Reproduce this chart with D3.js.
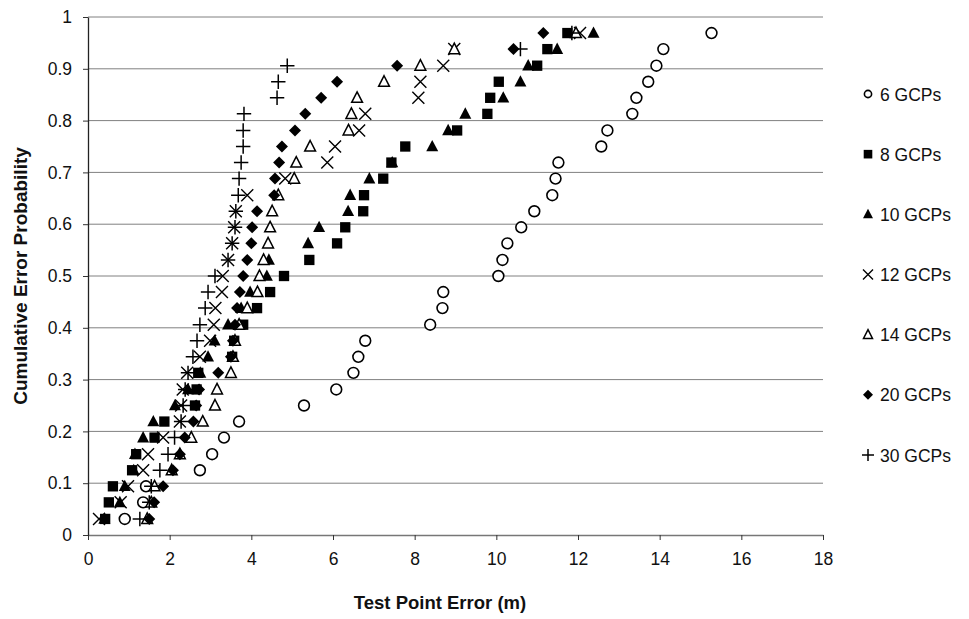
<!DOCTYPE html>
<html><head><meta charset="utf-8">
<script src="https://cdn.jsdelivr.net/npm/d3@7"></script>
<style>body{margin:0;background:#fff}svg{display:block}text{font-family:"Liberation Sans",Arial,sans-serif}</style>
</head><body>
<svg id="c" width="969" height="619"></svg>
<script>
// Cumulative probability levels (rank / 32)
const probability = [0.031,0.063,0.094,0.125,0.156,0.188,0.219,0.25,0.281,0.313,0.344,0.375,0.406,0.438,0.469,0.5,0.531,0.563,0.594,0.625,0.656,0.688,0.719,0.75,0.781,0.813,0.844,0.875,0.906,0.938,0.969];
const gcp6  = [0.90,1.35,1.42,2.74,3.04,3.33,3.70,5.29,6.08,6.50,6.62,6.79,8.38,8.68,8.70,10.05,10.15,10.27,10.61,10.93,11.37,11.45,11.52,12.57,12.72,13.33,13.43,13.72,13.92,14.09,15.27];
const gcp8  = [0.42,0.51,0.61,1.08,1.18,1.63,1.87,2.62,2.66,2.70,3.53,3.58,3.80,4.14,4.46,4.80,5.42,6.10,6.30,6.74,6.76,7.23,7.43,7.77,9.04,9.78,9.85,10.06,11.00,11.25,11.74];
const gcp10 = [0.40,0.78,0.90,1.12,1.15,1.35,1.60,2.13,2.45,2.75,2.94,3.10,3.43,3.75,3.97,4.38,4.43,5.39,5.66,6.37,6.42,6.89,7.45,8.43,8.82,9.24,10.17,10.59,10.78,11.49,12.38];
const gcp12 = [0.27,0.80,0.98,1.35,1.47,1.84,2.25,2.28,2.32,2.43,2.74,2.99,3.08,3.12,3.28,3.30,3.43,3.53,3.58,3.62,3.90,4.83,5.86,6.05,6.64,6.79,8.09,8.14,8.70,8.97,12.05];
const gcp14 = [1.45,1.55,1.63,2.05,2.25,2.53,2.81,3.11,3.16,3.50,3.55,3.60,3.70,3.90,4.15,4.20,4.30,4.41,4.46,4.51,4.66,5.05,5.10,5.44,6.38,6.45,6.59,7.25,8.14,8.97,11.95];
const gcp20 = [1.50,1.62,1.84,2.08,2.25,2.37,2.58,2.65,2.72,3.19,3.50,3.55,3.60,3.65,3.72,3.80,3.90,4.00,4.02,4.14,4.56,4.58,4.68,4.75,5.07,5.32,5.71,6.10,7.57,10.42,11.15];
const gcp30 = [1.27,1.50,1.55,1.76,1.96,2.12,2.28,2.33,2.38,2.45,2.57,2.67,2.74,2.87,2.94,3.11,3.43,3.53,3.60,3.62,3.68,3.70,3.75,3.80,3.80,3.82,4.63,4.66,4.88,10.59,11.85];
const seriesNames = ["6 GCPs","8 GCPs","10 GCPs","12 GCPs","14 GCPs","20 GCPs","30 GCPs"];
const seriesMarkers = ["circle","square","triangle","times","opentriangle","diamond","plus"];
const seriesValues = [gcp6,gcp8,gcp10,gcp12,gcp14,gcp20,gcp30];
const xTicks = [0,2,4,6,8,10,12,14,16,18];
const yTicks = [0,0.1,0.2,0.3,0.4,0.5,0.6,0.7,0.8,0.9,1];

const svg = d3.select("#c");
const L=88,R=823,T=17,B=535;
const x = d3.scaleLinear().domain([0,18]).range([L,R]);
const y = d3.scaleLinear().domain([0,1]).range([B,T]);

// gridlines
svg.append("g").selectAll("line").data(yTicks.filter(d=>d>0)).join("line")
  .attr("x1",L).attr("x2",R).attr("y1",d=>y(d)).attr("y2",d=>y(d))
  .attr("stroke","#808080").attr("stroke-width",1);

// axes
const xa = svg.append("g").attr("transform",`translate(0,${B})`)
  .call(d3.axisBottom(x).tickValues(xTicks).tickFormat(d3.format("d")).tickSize(5).tickSizeOuter(0).tickPadding(13));
const ya = svg.append("g").attr("transform",`translate(${L},0)`)
  .call(d3.axisLeft(y).tickValues(yTicks).tickFormat(d=>d===0?"0":d===1?"1":d3.format(".1f")(d)).tickSize(5).tickSizeOuter(0).tickPadding(11));
[xa,ya].forEach(a=>{a.selectAll("text").attr("font-size",17.5).attr("fill","#111").attr("font-family","Liberation Sans, Arial, sans-serif");
  a.selectAll("line").attr("stroke","#333"); a.select(".domain").attr("stroke","#222").attr("stroke-width",1.3);});
xa.select(".domain").attr("stroke","#777");

// titles
svg.append("text").attr("x",440).attr("y",609).attr("text-anchor","middle")
  .attr("font-size",18.5).attr("font-weight","bold").attr("fill","#111").text("Test Point Error (m)");
svg.append("text").attr("transform",`translate(27,${(T+B)/2}) rotate(-90)`).attr("text-anchor","middle")
  .attr("font-size",19).attr("font-weight","bold").attr("fill","#111").text("Cumulative Error Probability");

function drawMarker(g, type, s){
  const c="#000";
  if(type==="circle") g.append("circle").attr("r",s*0.45).attr("fill","#fff").attr("stroke",c).attr("stroke-width",1.6);
  else if(type==="square") g.append("rect").attr("x",-s*0.43).attr("y",-s*0.43).attr("width",s*0.86).attr("height",s*0.86).attr("fill",c);
  else if(type==="triangle") g.append("path").attr("d",`M0,${-s*0.55}L${s*0.5},${s*0.4}L${-s*0.5},${s*0.4}Z`).attr("fill",c);
  else if(type==="opentriangle") g.append("path").attr("d",`M0,${-s*0.5}L${s*0.45},${s*0.38}L${-s*0.45},${s*0.38}Z`).attr("fill","#fff").attr("stroke",c).attr("stroke-width",1.5);
  else if(type==="diamond") g.append("path").attr("d",`M0,${-s*0.5}L${s*0.5},0L0,${s*0.5}L${-s*0.5},0Z`).attr("fill",c);
  else if(type==="times") g.append("path").attr("d",`M${-s*0.5},${-s*0.5}L${s*0.5},${s*0.5}M${s*0.5},${-s*0.5}L${-s*0.5},${s*0.5}`).attr("stroke",c).attr("stroke-width",1.4).attr("fill","none");
  else if(type==="plus") g.append("path").attr("d",`M${-s*0.6},0L${s*0.6},0M0,${-s*0.6}L0,${s*0.6}`).attr("stroke",c).attr("stroke-width",1.5).attr("fill","none");
}

seriesValues.forEach((vals,si)=>{
  const g = svg.append("g");
  vals.forEach((v,i)=>{
    const m = g.append("g").attr("transform",`translate(${x(v)},${y(probability[i])})`);
    drawMarker(m, seriesMarkers[si], 12);
  });
});

// legend
const legY = d3.scalePoint().domain(seriesNames).range([94,455]);
seriesNames.forEach((n,si)=>{
  const m = svg.append("g").attr("transform",`translate(868,${legY(n)})`);
  drawMarker(m, seriesMarkers[si], si===0?8:10);
  svg.append("text").attr("x",880).attr("y",legY(n)+6.5).attr("font-size",17.5).attr("fill","#111").text(n);
});
</script>
</body></html>
